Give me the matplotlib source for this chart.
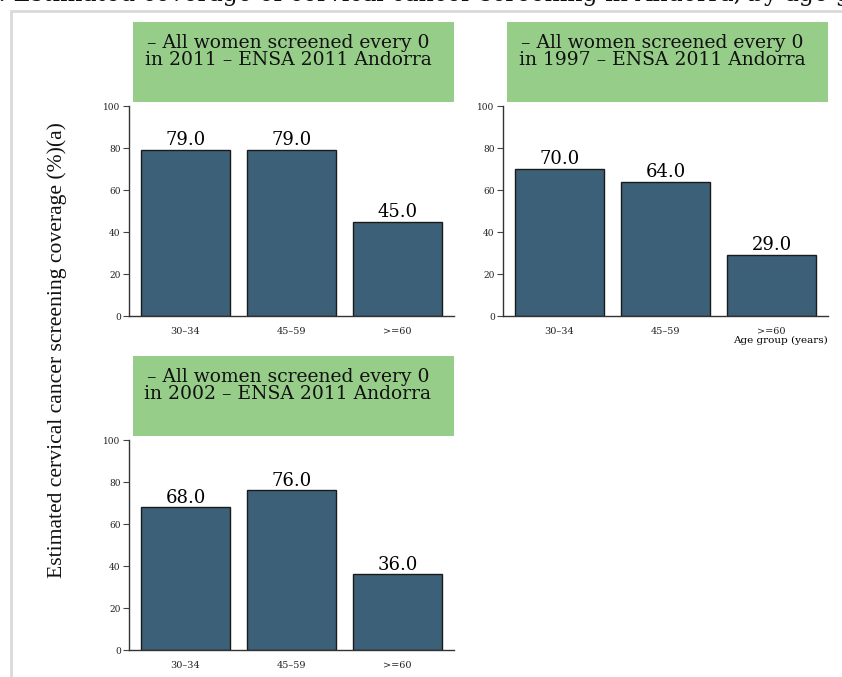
import matplotlib
matplotlib.use("Agg")
import matplotlib.pyplot as plt
from matplotlib.patches import Rectangle

# ── Data ────────────────────────────────────────────────────────────────
age_groups = ["30\u201334", "45\u201359", ">=60"]
cov_2011 = [79.0, 79.0, 45.0]
cov_1997 = [70.0, 64.0, 29.0]
cov_2002 = [68.0, 76.0, 36.0]
panel_titles = [
    "\u2013 All women screened every 0\nin 2011 \u2013 ENSA 2011 Andorra",
    "\u2013 All women screened every 0\nin 1997 \u2013 ENSA 2011 Andorra",
    "\u2013 All women screened every 0\nin 2002 \u2013 ENSA 2011 Andorra",
]
y_ticks = [0, 20, 40, 60, 80, 100]

# ── Style ───────────────────────────────────────────────────────────────
W, H = 842, 677
BAR_C = "#3d6079"
GREEN = "#96cd88"
SERIF = "DejaVu Serif"

fig = plt.figure(figsize=(W / 100, H / 100), dpi=100)


def fx(px):
    return px / W


def fy(py):
    return 1 - py / H


# outer light-gray frame (extends past the right/bottom edges)
fig.add_artist(Rectangle((fx(11), fy(700)), fx(860), fy(11) - fy(700),
                         transform=fig.transFigure, fill=False,
                         edgecolor="#d9d9d9", linewidth=2))

# title, mostly cut off at the top
fig.text(fx(-2), fy(1.5), ": Estimated coverage of cervical cancer screening in Andorra, by age group",
         ha="left", va="baseline", fontsize=17, family=SERIF, color="#111111")

# (left, right, top, bottom) in pixels
panels = [
    ((129, 454, 106, 316), cov_2011, panel_titles[0], False),
    ((503, 828, 106, 316), cov_1997, panel_titles[1], True),
    ((129, 454, 440, 650), cov_2002, panel_titles[2], False),
]

x = range(len(age_groups))
for (l, r, t, b), vals, title, show_xlabel in panels:
    ax = fig.add_axes([fx(l), fy(b), fx(r - l), fy(t) - fy(b)])
    bars = ax.bar(x, vals, width=0.84, color=BAR_C, edgecolor="#1a1a1a", linewidth=1.0)
    for bar, v in zip(bars, vals):
        ax.annotate(f"{v:.1f}", (bar.get_x() + bar.get_width() / 2, v),
                    xytext=(0, 0.5), textcoords="offset points",
                    ha="center", va="bottom", fontsize=13, family=SERIF)
    ax.set_xlim(-0.533, 2.533)
    ax.set_ylim(0, 100)
    ax.set_yticks(y_ticks)
    ax.set_yticklabels([str(v) for v in y_ticks], fontsize=6.5, family=SERIF, color="#222222")
    ax.set_xticks(list(x))
    ax.set_xticklabels(age_groups, fontsize=7, family=SERIF, color="#222222")
    ax.tick_params(axis="x", length=0, pad=8)
    ax.tick_params(axis="y", length=4, width=0.8, pad=2, color="#444444")
    for s in ["top", "right"]:
        ax.spines[s].set_visible(False)
    for s in ["left", "bottom"]:
        ax.spines[s].set_linewidth(1.0)
        ax.spines[s].set_color("#333333")
    if show_xlabel:
        ax.set_xlabel("Age group (years)", loc="right", fontsize=7.5, family=SERIF, labelpad=0)

    # green header box above each panel
    fig.add_artist(Rectangle((fx(l + 4), fy(t - 4)), fx(r - l - 4), fy(t - 84) - fy(t - 4),
                             transform=fig.transFigure, facecolor=GREEN, edgecolor="none"))
    fig.text(fx(l + 159), fy(t - 72), title, ha="center", va="top", multialignment="center",
             fontsize=13.5, family=SERIF, linespacing=0.95, color="#111111")

fig.text(fx(57), fy(350), "Estimated cervical cancer screening coverage (%)(a)",
         rotation=90, ha="center", va="center", fontsize=15.6, family="Liberation Serif",
         color="#111111")

fig.savefig("out.png", dpi=100)
